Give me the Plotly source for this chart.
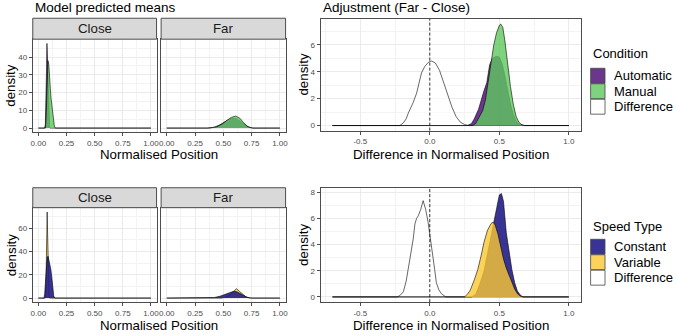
import plotly.graph_objects as go

W, H = 676, 336
FONT = "Liberation Sans, Arial, sans-serif"

# ---------------- data (density curves) ----------------
# Top row: Condition
close_auto_x = [0.0, 0.055, 0.062, 0.068, 0.072, 0.076, 0.080, 0.085, 0.090, 0.095, 0.100, 0.105, 1.0]
close_auto_y = [0, 0, 2, 15, 32, 47.7, 40, 25, 12, 4, 1, 0, 0]
close_man_x = [0.0, 0.062, 0.068, 0.074, 0.079, 0.085, 0.092, 0.098, 0.106, 0.112, 0.119, 0.125, 0.132, 0.142, 0.150, 1.0]
close_man_y = [0, 0, 5, 18, 32, 38, 36, 32, 22.5, 17, 13, 8.5, 4.5, 1, 0, 0]
far_auto_x = [0.0, 0.36, 0.42, 0.47, 0.52, 0.56, 0.59, 0.62, 0.65, 0.68, 0.72, 0.76, 1.0]
far_auto_y = [0, 0, 0.5, 1.8, 3.8, 5.2, 5.6, 5.2, 3.9, 2.3, 0.7, 0, 0]
far_man_x = [0.0, 0.38, 0.44, 0.49, 0.53, 0.57, 0.61, 0.645, 0.68, 0.71, 0.74, 0.76, 1.0]
far_man_y = [0, 0, 0.7, 2.3, 4.3, 6.0, 6.8, 5.6, 3.0, 1.0, 0.2, 0, 0]

adj_diff_x = [-0.7, -0.215, -0.19, -0.17, -0.154, -0.12, -0.095, -0.075, -0.06, -0.036, -0.01, 0.012,
              0.04, 0.07, 0.10, 0.13, 0.16, 0.19, 0.22, 0.25, 0.28, 1.0]
adj_diff_y = [0, 0, 0.2, 0.5, 0.94, 1.7, 2.4, 3.2, 3.9, 4.4, 4.7, 4.8,
              4.65, 4.1, 3.2, 2.3, 1.35, 0.65, 0.25, 0.07, 0, 0]
adj_auto_x = [-0.7, 0.27, 0.30, 0.32, 0.35, 0.37, 0.39, 0.41, 0.43, 0.45, 0.48, 0.50, 0.52, 0.54,
              0.56, 0.58, 0.60, 0.62, 0.64, 0.66, 0.68, 1.0]
adj_auto_y = [0, 0, 0.15, 0.5, 1.2, 2.0, 2.6, 3.2, 4.5, 5.0, 5.15, 5.1, 4.6, 3.7,
              2.6, 1.6, 0.85, 0.35, 0.12, 0.03, 0, 0]
adj_man_x = [-0.7, 0.31, 0.33, 0.35, 0.38, 0.40, 0.42, 0.44, 0.46, 0.48, 0.50, 0.51, 0.525, 0.54,
             0.56, 0.58, 0.60, 0.62, 0.64, 0.66, 0.68, 1.0]
adj_man_y = [0, 0, 0.15, 0.5, 1.1, 1.9, 3.2, 4.8, 6.0, 6.9, 7.45, 7.55, 7.3, 6.3,
             4.5, 2.9, 1.6, 0.7, 0.25, 0.07, 0, 0]

# Bottom row: Speed Type
close_var_x = [0.0, 0.060, 0.066, 0.070, 0.074, 0.078, 0.082, 0.086, 0.090, 0.095, 0.100, 1.0]
close_var_y = [0, 0, 4, 20, 50, 74, 55, 28, 10, 2, 0, 0]
close_con_x = [0.0, 0.050, 0.056, 0.062, 0.070, 0.078, 0.086, 0.094, 0.102, 0.110, 0.118, 0.124,
               0.130, 0.136, 0.145, 1.0]
close_con_y = [0, 0, 4, 14, 28, 35, 36, 33, 29, 25, 19, 12, 6, 2, 0, 0]
far_var_x = [0.0, 0.48, 0.52, 0.56, 0.59, 0.615, 0.64, 0.67, 0.70, 0.73, 0.75, 1.0]
far_var_y = [0, 0, 0.8, 2.8, 5.5, 8.1, 6.0, 3.2, 1.0, 0.2, 0, 0]
far_con_x = [0.0, 0.36, 0.42, 0.47, 0.52, 0.56, 0.59, 0.62, 0.65, 0.68, 0.71, 0.74, 0.76, 1.0]
far_con_y = [0, 0, 0.5, 1.6, 3.3, 4.9, 5.8, 5.4, 3.8, 2.0, 0.7, 0.1, 0, 0]

spd_diff_x = [-0.7, -0.235, -0.215, -0.19, -0.17, -0.154, -0.135, -0.119, -0.107, -0.095, -0.083,
              -0.065, -0.048, -0.03, -0.012, 0.005, 0.023, 0.035, 0.047, 0.065, 0.083, 0.1, 0.115, 1.0]
spd_diff_y = [0, 0, 0.1, 0.4, 1.2, 2.15, 3.4, 4.44, 5.58, 6.0, 6.2,
              6.7, 7.36, 6.7, 5.7, 4.5, 3.2, 2.1, 1.1, 0.55, 0.25, 0.08, 0, 0]
spd_con_x = [-0.7, 0.30, 0.33, 0.36, 0.39, 0.42, 0.45, 0.48, 0.50, 0.515, 0.53, 0.55, 0.56, 0.57,
             0.59, 0.61, 0.63, 0.65, 0.67, 1.0]
spd_con_y = [0, 0, 0.2, 1.0, 2.0, 3.6, 5.4, 7.0, 7.8, 7.9, 7.3, 4.9, 4.2, 3.4,
             2.1, 1.1, 0.45, 0.15, 0, 0]
spd_var_x = [-0.7, 0.25, 0.27, 0.29, 0.32, 0.345, 0.37, 0.39, 0.415, 0.44, 0.455, 0.47, 0.49, 0.51,
             0.53, 0.55, 0.57, 0.59, 0.61, 0.63, 0.65, 0.67, 1.0]
spd_var_y = [0, 0, 0.2, 0.5, 1.3, 2.1, 3.2, 4.2, 5.1, 5.6, 5.72, 5.5, 4.8, 3.8,
             2.9, 2.2, 1.7, 1.1, 0.6, 0.25, 0.07, 0, 0]

facet_labels = ["Close", "Far"]
cond_labels = ["Automatic", "Manual", "Difference"]
speed_labels = ["Constant", "Variable", "Difference"]
left_xticks = [0, 0.25, 0.5, 0.75, 1.0]
left_xticktext = ["0.00", "0.25", "0.50", "0.75", "1.00"]
right_xticks = [-0.5, 0.0, 0.5, 1.0]
right_xticktext = ["-0.5", "0.0", "0.5", "1.0"]
top_left_yticks = [0, 10, 20, 30, 40]
bot_left_yticks = [0, 20, 40, 60]
top_right_yticks = [0, 2, 4, 6]
bot_right_yticks = [0, 2, 4, 6, 8]

# ---------------- styles ----------------
COL = {
    "Automatic": "rgba(80,20,120,0.85)",
    "Manual": "rgba(95,200,95,0.8)",
    "Constant": "rgba(35,30,135,0.9)",
    "Variable": "rgba(250,200,50,0.8)",
    "Difference": "rgba(255,255,255,0.55)",
}
GRID = "#EBEBEB"
MINOR = "#F3F3F3"
BORDER = "#4D4D4D"
TICKFONT = dict(family=FONT, size=8, color="#4D4D4D")


def xd(l, r):
    return [l / W, r / W]


def yd(t, b):
    return [1 - b / H, 1 - t / H]


def expand(lo, hi, f=0.05):
    d = (hi - lo) * f
    return [lo - d, hi + d]


fig = go.Figure()


def dens(x, y, name, ax):
    fig.add_trace(go.Scatter(
        x=x, y=y, mode="lines", fill="tozeroy", fillcolor=COL[name],
        line=dict(color="black", width=0.6), name=name, showlegend=False,
        xaxis="x" + ax, yaxis="y" + ax, hoverinfo="skip"))


# top left (Close = 1, Far = 2)
dens(close_auto_x, close_auto_y, "Automatic", "")
dens(close_man_x, close_man_y, "Manual", "")
dens(far_auto_x, far_auto_y, "Automatic", "2")
dens(far_man_x, far_man_y, "Manual", "2")
# top right (3)
dens(adj_diff_x, adj_diff_y, "Difference", "3")
dens(adj_auto_x, adj_auto_y, "Automatic", "3")
dens(adj_man_x, adj_man_y, "Manual", "3")
# bottom left (4, 5)
dens(close_var_x, close_var_y, "Variable", "4")
dens(close_con_x, close_con_y, "Constant", "4")
dens(far_var_x, far_var_y, "Variable", "5")
dens(far_con_x, far_con_y, "Constant", "5")
# bottom right (6)
dens(spd_diff_x, spd_diff_y, "Difference", "6")
dens(spd_con_x, spd_con_y, "Constant", "6")
dens(spd_var_x, spd_var_y, "Variable", "6")

# ranges (ggplot-like 5% expansion)
left_xr = expand(min(close_auto_x + far_man_x), max(close_auto_x + far_man_x))
right_xr = expand(min(adj_diff_x + spd_diff_x), max(adj_diff_x + spd_diff_x))
tl_max = max(close_auto_y + close_man_y + far_auto_y + far_man_y)
bl_max = max(close_var_y + close_con_y + far_var_y + far_con_y)
tr_max = max(adj_diff_y + adj_auto_y + adj_man_y)
br_max = max(spd_diff_y + spd_con_y + spd_var_y)


def xaxis(dom, rng, tv, tt, minor_step, anchor):
    return dict(domain=dom, range=rng, tickvals=tv, ticktext=tt, anchor=anchor,
                showgrid=True, gridcolor=GRID, gridwidth=1, zeroline=False,
                showline=True, mirror=True, linecolor=BORDER, linewidth=1,
                ticks="outside", ticklen=3, tickcolor=BORDER, tickfont=TICKFONT,
                minor=dict(dtick=minor_step, tick0=0, showgrid=True, gridcolor=MINOR,
                           gridwidth=0.6, ticks=""),
                fixedrange=True)


def yaxis(dom, rng, tv, minor_step, anchor, labels=True):
    return dict(domain=dom, range=rng, tickvals=tv, anchor=anchor,
                showticklabels=labels,
                showgrid=True, gridcolor=GRID, gridwidth=1, zeroline=False,
                showline=True, mirror=True, linecolor=BORDER, linewidth=1,
                ticks="outside" if labels else "", ticklen=3, tickcolor=BORDER,
                tickfont=TICKFONT,
                minor=dict(dtick=minor_step, tick0=0, showgrid=True, gridcolor=MINOR,
                           gridwidth=0.6, ticks=""),
                fixedrange=True)


TOP = (39.3, 132.7)
BOT = (208.3, 303.3)
CLOSE = (31, 155.7)
FAR = (160.3, 285.7)
RIGHT = (321, 583)
TR = (19, 131)
BR = (189, 303)

fig.update_layout(
    xaxis=xaxis(xd(*CLOSE), left_xr, left_xticks, left_xticktext, 0.125, "y"),
    yaxis=yaxis(yd(*TOP), [-0.05 * tl_max, 1.05 * tl_max], top_left_yticks, 5, "x"),
    xaxis2=xaxis(xd(*FAR), left_xr, left_xticks, left_xticktext, 0.125, "y2"),
    yaxis2=yaxis(yd(*TOP), [-0.05 * tl_max, 1.05 * tl_max], top_left_yticks, 5, "x2", False),
    xaxis3=xaxis(xd(*RIGHT), right_xr, right_xticks, right_xticktext, 0.25, "y3"),
    yaxis3=yaxis(yd(*TR), [-0.05 * tr_max, 1.05 * tr_max], top_right_yticks, 1, "x3"),
    xaxis4=xaxis(xd(*CLOSE), left_xr, left_xticks, left_xticktext, 0.125, "y4"),
    yaxis4=yaxis(yd(*BOT), [-0.05 * bl_max, 1.05 * bl_max], bot_left_yticks, 10, "x4"),
    xaxis5=xaxis(xd(*FAR), left_xr, left_xticks, left_xticktext, 0.125, "y5"),
    yaxis5=yaxis(yd(*BOT), [-0.05 * bl_max, 1.05 * bl_max], bot_left_yticks, 10, "x5", False),
    xaxis6=xaxis(xd(*RIGHT), right_xr, right_xticks, right_xticktext, 0.25, "y6"),
    yaxis6=yaxis(yd(*BR), [-0.05 * br_max, 1.05 * br_max], bot_right_yticks, 1, "x6"),
)

shapes = []
annotations = []


def px(x):
    return x / W


def py(y):
    return 1 - y / H


# strips
for (top, bot) in [(18.3, 39.3), (188.3, 208.3)]:
    for i, (l, r) in enumerate([CLOSE, FAR]):
        shapes.append(dict(type="rect", xref="paper", yref="paper", x0=px(l), x1=px(r),
                           y0=py(bot), y1=py(top), fillcolor="#D9D9D9",
                           line=dict(color=BORDER, width=1), layer="above"))
        annotations.append(dict(text=facet_labels[i], xref="paper", yref="paper",
                                x=px((l + r) / 2), y=py((top + bot) / 2), showarrow=False,
                                xanchor="center", yanchor="middle",
                                font=dict(family=FONT, size=13.3, color="#1A1A1A")))

# dashed zero lines
for ax in ["3", "6"]:
    shapes.append(dict(type="line", xref="x" + ax, yref="y" + ax + " domain", x0=0, x1=0,
                       y0=0, y1=1, line=dict(color="black", width=0.8, dash="3px,2px")))


def text(t, x, y, xanchor="center", angle=0, size=13.3):
    annotations.append(dict(text=t, xref="paper", yref="paper", x=px(x), y=py(y),
                            showarrow=False, xanchor=xanchor, yanchor="middle",
                            textangle=angle, font=dict(family=FONT, size=size, color="black")))


text("Model predicted means", 31, 8, "left", size=13.5)
text("Adjustment (Far - Close)", 321, 8, "left", size=13.5)
text("Normalised Position", 158.5, 154.5)
text("Difference in Normalised Position", 452, 154.5)
text("Normalised Position", 158.5, 326)
text("Difference in Normalised Position", 452, 326)
text("density", 9, 86, angle=-90)
text("density", 304, 75, angle=-90)
text("density", 9, 256, angle=-90)
text("density", 304, 246, angle=-90)


def legend(title, labels, title_y, key_top):
    text(title, 593, title_y, "left", size=13)
    for i, lab in enumerate(labels):
        t = key_top + i * 15.5
        shapes.append(dict(type="rect", xref="paper", yref="paper", x0=px(593), x1=px(607.5),
                           y0=py(t + 15), y1=py(t), fillcolor=COL[lab],
                           line=dict(color="#444444", width=0.8)))
        text(lab, 615, t + 7.5, "left", size=13)


legend("Condition", cond_labels, 54, 68.5)
legend("Speed Type", speed_labels, 226.7, 240)

fig.update_layout(
    width=W, height=H, margin=dict(l=0, r=0, t=0, b=0),
    paper_bgcolor="white", plot_bgcolor="white",
    shapes=shapes, annotations=annotations, showlegend=False,
    font=dict(family=FONT),
)

fig.write_html("out.html")
